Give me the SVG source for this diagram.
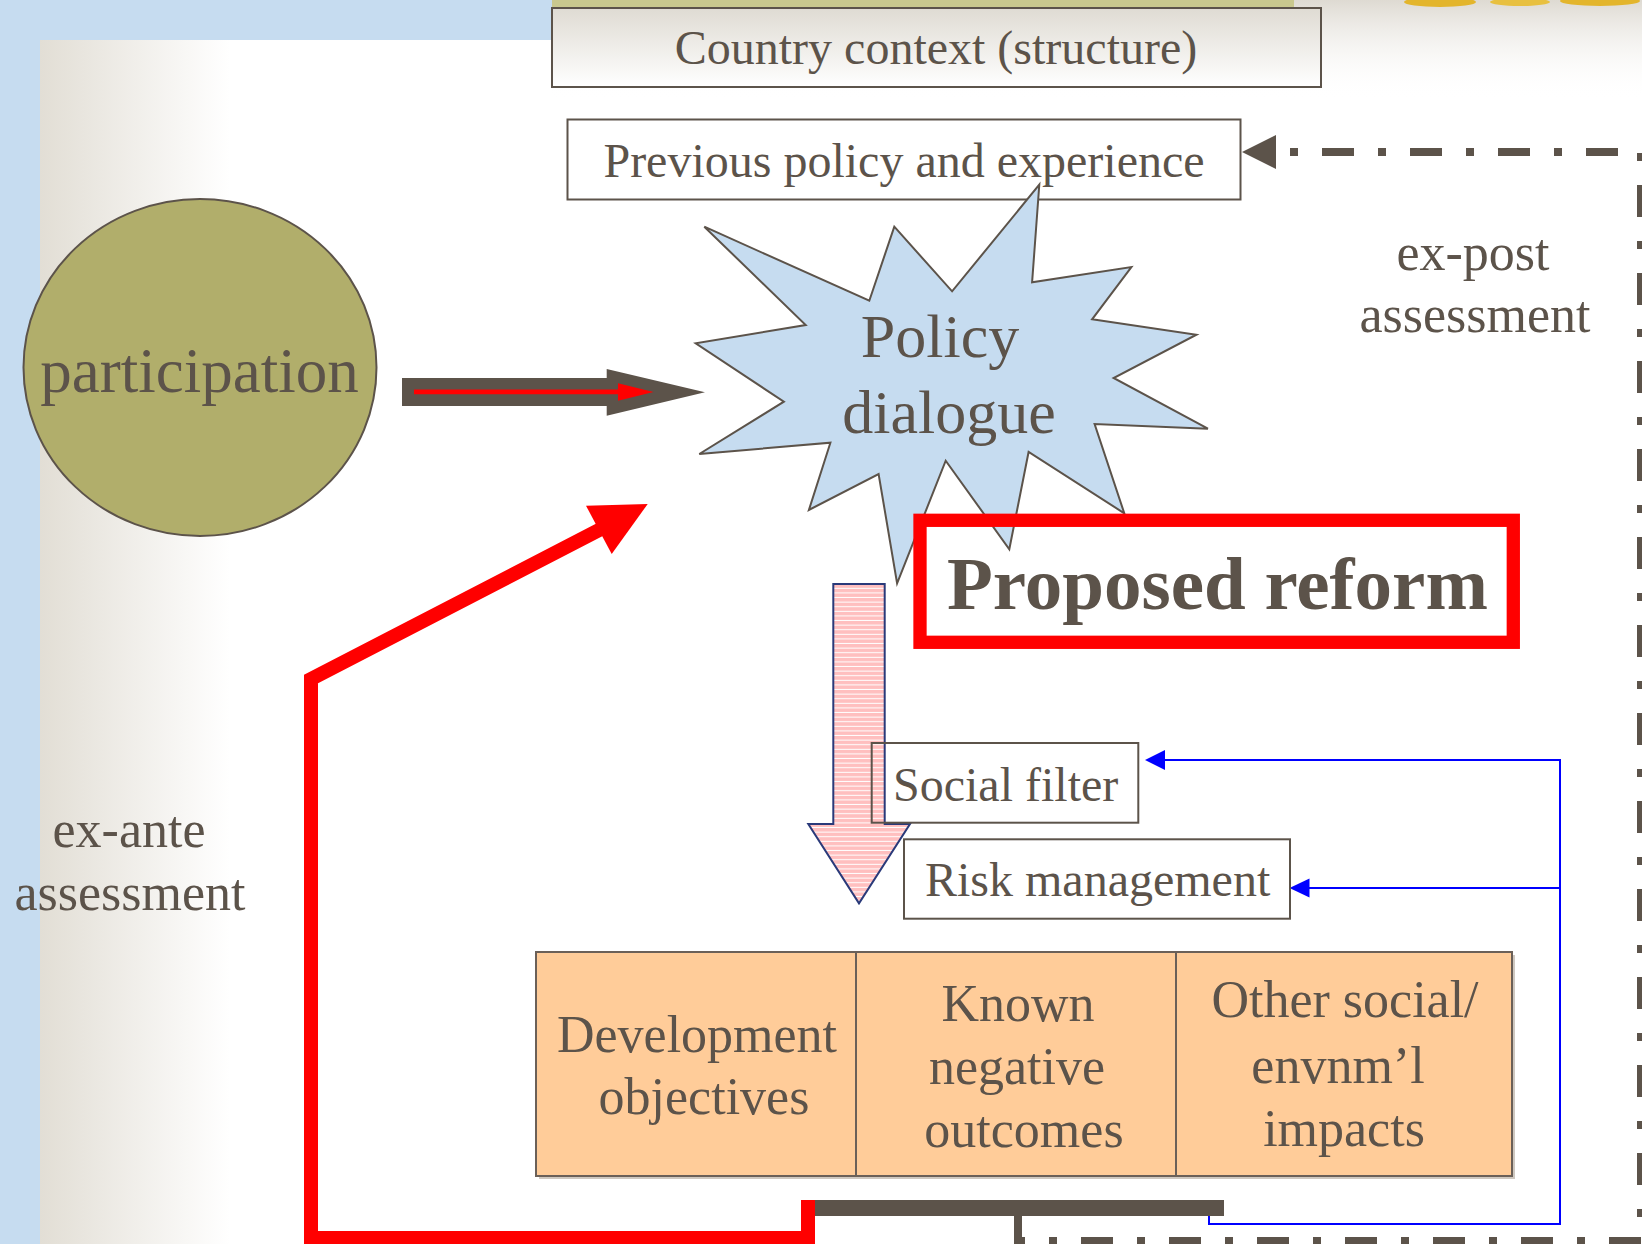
<svg xmlns="http://www.w3.org/2000/svg" width="1642" height="1244" viewBox="0 0 1642 1244">
<defs>
<style>
.t{font-family:"Liberation Serif","Times New Roman",serif;fill:#5c534a;font-size:48px}
.t52{font-size:52px}
.box{fill:#fff;stroke:#5c534a;stroke-width:2}
.cell{fill:#ffcc99;stroke:#6b6058;stroke-width:2}
.blue{fill:none;stroke:#0000ff;stroke-width:2}
</style>
<linearGradient id="leftGrad" gradientUnits="userSpaceOnUse" x1="40" y1="0" x2="230" y2="0">
<stop offset="0" stop-color="#e2ded5"/><stop offset="1" stop-color="#ffffff"/>
</linearGradient>
<linearGradient id="topGrad" x1="0" y1="0" x2="0" y2="1">
<stop offset="0" stop-color="#dedad2"/><stop offset="1" stop-color="#ffffff" stop-opacity="0"/>
</linearGradient>
<linearGradient id="ctxGrad" x1="0" y1="0" x2="0" y2="1">
<stop offset="0" stop-color="#dfdbd3"/><stop offset="1" stop-color="#ffffff"/>
</linearGradient>
<pattern id="stripes" patternUnits="userSpaceOnUse" width="10" height="4.6">
<rect width="10" height="4.6" fill="#ffbfbf"/><rect y="3.6" width="10" height="1" fill="#ffffff"/>
</pattern>
</defs>

<g id="background">
<rect width="1642" height="1244" fill="#c6dcf0"/>
<path d="M40,40 H552 V0 H1642 V1244 H40 Z" fill="url(#leftGrad)"/>
<rect x="552" y="0" width="1090" height="100" fill="url(#topGrad)"/>
<rect x="552" y="0" width="742" height="8" fill="#c9c88e"/>
<ellipse cx="1440" cy="2" rx="36" ry="5" fill="#e3b52c"/>
<ellipse cx="1520" cy="2" rx="30" ry="4" fill="#e8c040"/>
<ellipse cx="1600" cy="1" rx="40" ry="5" fill="#e3b52c"/>
</g>

<g id="country-context">
<rect x="552" y="8" width="769" height="79" fill="url(#ctxGrad)" stroke="#5c534a" stroke-width="2"/>
<text class="t" x="936" y="64" text-anchor="middle">Country context (structure)</text>
</g>

<g id="previous-policy">
<rect class="box" x="567.5" y="119.5" width="673" height="80"/>
<text class="t" x="904" y="177" text-anchor="middle">Previous policy and experience</text>
</g>

<g id="participation">
<ellipse cx="200" cy="367.5" rx="176.5" ry="168.5" fill="#b1ae6b" stroke="#5c534a" stroke-width="2"/>
<text class="t" x="199.5" y="391.5" text-anchor="middle" style="font-size:63px">participation</text>
</g>

<g id="policy-dialogue">
<polygon points="704.3,226.7 869.3,300.7 894.3,226.7 952.1,291.3 1039.3,184.7 1032.1,282.3 1131.4,267 1092.1,319.3 1196.4,334.7 1113.6,378 1207.9,428.7 1094.6,424 1124.3,513.3 1028.6,452 1009.3,549.3 945.7,460.7 897.1,583.3 878.6,474 808.9,510 830.4,442.7 699.3,454 783.9,401.7 695.7,343.3 805.7,325" fill="#c6dcf0" stroke="#5c534a" stroke-width="2" stroke-linejoin="miter"/>
<text class="t" x="940" y="357" text-anchor="middle" style="font-size:62px">Policy</text>
<text class="t" x="949" y="433" text-anchor="middle" style="font-size:62px">dialogue</text>
</g>

<g id="proposed-reform">
<rect x="920" y="520.3" width="593.3" height="122" fill="none" stroke="#ff0000" stroke-width="13.3"/>
<text class="t" x="947" y="608.5" style="font-size:75px;font-weight:bold">Proposed reform</text>
</g>

<g id="ex-post">
<text class="t t52" x="1473" y="270" text-anchor="middle">ex-post</text>
<text class="t t52" x="1475" y="331.5" text-anchor="middle">assessment</text>
</g>

<g id="ex-ante">
<text class="t t52" x="129" y="847" text-anchor="middle">ex-ante</text>
<text class="t t52" x="130" y="910" text-anchor="middle">assessment</text>
</g>

<g id="outcome-boxes">
<rect x="539" y="955" width="976" height="224" fill="#cfc8c0"/>
<rect class="cell" x="536" y="952" width="320" height="224"/>
<rect class="cell" x="856" y="952" width="320" height="224"/>
<rect class="cell" x="1176" y="952" width="336" height="224"/>
</g>

<g id="development-objectives">
<text class="t t52" x="697" y="1052" text-anchor="middle">Development</text>
<text class="t t52" x="704" y="1114" text-anchor="middle">objectives</text>
</g>

<g id="known-negative-outcomes">
<text class="t t52" x="1018" y="1021" text-anchor="middle">Known</text>
<text class="t t52" x="1017" y="1084" text-anchor="middle">negative</text>
<text class="t t52" x="1024" y="1147" text-anchor="middle">outcomes</text>
</g>

<g id="other-impacts">
<text class="t t52" x="1345" y="1017" text-anchor="middle">Other social/</text>
<text class="t t52" x="1338" y="1083" text-anchor="middle">envnm’l</text>
<text class="t t52" x="1344" y="1146" text-anchor="middle">impacts</text>
</g>

<g id="connectors">
<polygon points="402,378 606.7,378 606.7,369 705,392.3 606.7,415.7 606.7,406 402,406" fill="#5c534a"/>
<line x1="414" y1="391.8" x2="620" y2="391.8" stroke="#ff0000" stroke-width="4.7"/>
<polygon points="618,383.3 653.5,392 618,400.7" fill="#ff0000"/>

<polygon points="833.3,584 884.7,584 884.7,824 910,824 859,903.3 808.3,824 833.3,824" fill="url(#stripes)" stroke="#2a3a7a" stroke-width="2" stroke-linejoin="miter"/>

<rect x="815" y="1200" width="409" height="16" fill="#5c534a"/>

<polyline points="808,1200 808,1238 311,1238 311,679 601,529" fill="none" stroke="#ff0000" stroke-width="14" stroke-linejoin="miter"/>
<polygon points="586,505.7 647.7,504 611.7,554" fill="#ff0000"/>

<path d="M1018,1216 V1241 H1641 V152 H1276" fill="none" stroke="#5c534a" stroke-width="8" stroke-dasharray="32 24 8 24"/>
<polygon points="1242,152 1276,135 1276,169" fill="#5c534a"/>

<polyline class="blue" points="1209,1216 1209,1224 1560,1224 1560,760 1163,760"/>
<polygon points="1145,760 1165,750 1165,770" fill="#0000ff"/>
<line class="blue" x1="1560" y1="888" x2="1307" y2="888"/>
<polygon points="1289.5,888 1309.5,878.5 1309.5,897.5" fill="#0000ff"/>
</g>

<g id="social-filter">
<rect x="871.7" y="743" width="266.6" height="79.7" fill="none" stroke="#5c534a" stroke-width="2"/>
<text class="t" x="893" y="800.5">Social filter</text>
</g>

<g id="risk-management">
<rect class="box" x="904" y="839.3" width="386" height="79.4"/>
<text class="t" x="925" y="896">Risk management</text>
</g>
</svg>
